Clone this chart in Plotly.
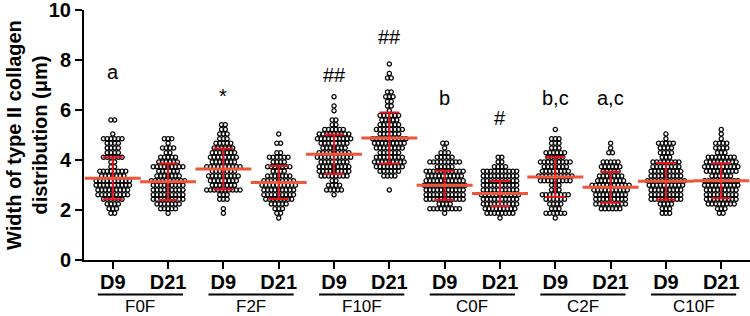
import plotly.graph_objects as go

# ---------------- data ----------------
GROUPS = ["F0F", "F2F", "F10F", "C0F", "C2F", "C10F"]
DAYS = ["D9", "D21"] * 6

# each series: rows of (value in µm, number of dots in that row)
F0F_D9 = [(5.60, 2), (5.04, 1), (4.85, 6), (4.67, 4), (4.48, 4), (4.29, 4), (4.11, 6), (3.92, 2), (3.73, 2),
          (3.55, 8), (3.36, 7), (3.17, 10), (2.99, 10), (2.80, 9), (2.61, 9), (2.43, 6), (2.24, 4), (2.05, 3), (1.87, 2)]
F0F_D21 = [(4.85, 3), (4.67, 1), (4.48, 4), (4.29, 2), (4.11, 5), (3.92, 6), (3.73, 9), (3.55, 6), (3.36, 7),
           (3.17, 10), (2.99, 9), (2.80, 9), (2.61, 9), (2.43, 9), (2.24, 7), (2.05, 5), (1.87, 1)]
F2F_D9 = [(5.41, 2), (5.22, 2), (5.04, 3), (4.85, 3), (4.67, 5), (4.48, 6), (4.29, 7), (4.11, 8), (3.92, 7),
          (3.73, 10), (3.55, 7), (3.36, 9), (3.17, 8), (2.99, 7), (2.80, 10), (2.61, 3), (2.43, 3), (2.05, 1), (1.87, 1)]
F2F_D21 = [(5.04, 1), (4.67, 2), (4.29, 2), (4.11, 6), (3.92, 4), (3.73, 7), (3.55, 4), (3.36, 7), (3.17, 9),
           (2.99, 10), (2.80, 9), (2.61, 9), (2.43, 8), (2.24, 5), (2.05, 3), (1.87, 2), (1.68, 1)]
F10F_D9 = [(6.53, 1), (6.16, 1), (5.97, 1), (5.60, 2), (5.41, 2), (5.22, 6), (5.04, 9), (4.85, 10), (4.67, 8),
           (4.48, 7), (4.29, 9), (4.11, 10), (3.92, 8), (3.73, 9), (3.55, 9), (3.36, 8), (3.17, 2), (2.99, 4),
           (2.80, 5), (2.61, 1)]
F10F_D21 = [(7.84, 1), (7.46, 1), (7.28, 2), (6.72, 2), (6.53, 3), (6.34, 2), (6.16, 2), (5.97, 1), (5.78, 6),
            (5.60, 5), (5.41, 6), (5.22, 8), (5.04, 6), (4.85, 10), (4.67, 9), (4.48, 8), (4.29, 6), (4.11, 8),
            (3.92, 9), (3.73, 8), (3.55, 6), (3.36, 4), (2.80, 1)]
C0F_D9 = [(4.67, 2), (4.48, 1), (4.29, 3), (4.11, 5), (3.92, 9), (3.73, 5), (3.55, 11), (3.36, 10), (3.17, 11),
          (2.99, 12), (2.80, 11), (2.61, 11), (2.43, 11), (2.24, 4), (2.05, 9), (1.87, 1)]
C0F_D21 = [(4.11, 2), (3.92, 2), (3.73, 4), (3.55, 10), (3.36, 10), (3.17, 10), (2.99, 10), (2.80, 10),
           (2.61, 11), (2.43, 10), (2.24, 10), (2.05, 9), (1.87, 8), (1.68, 1)]
C2F_D9 = [(5.22, 1), (4.85, 3), (4.67, 3), (4.48, 3), (4.29, 6), (4.11, 5), (3.92, 9), (3.73, 7), (3.55, 8),
          (3.36, 10), (3.17, 9), (2.99, 3), (2.80, 3), (2.61, 8), (2.43, 6), (2.24, 4), (2.05, 3), (1.87, 6), (1.68, 1)]
C2F_D21 = [(4.67, 1), (4.48, 1), (4.29, 2), (3.92, 5), (3.73, 6), (3.55, 5), (3.36, 7), (3.17, 8), (2.99, 11),
           (2.80, 10), (2.61, 9), (2.43, 9), (2.24, 9), (2.05, 6)]
C10F_D9 = [(5.04, 1), (4.85, 1), (4.67, 5), (4.48, 4), (4.29, 4), (4.11, 3), (3.92, 8), (3.73, 8), (3.55, 9),
           (3.36, 9), (3.17, 11), (2.99, 10), (2.80, 9), (2.61, 9), (2.43, 9), (2.24, 4), (2.05, 3), (1.87, 3)]
C10F_D21 = [(5.22, 1), (5.04, 1), (4.85, 1), (4.67, 4), (4.48, 4), (4.29, 3), (4.11, 8), (3.92, 9), (3.73, 10),
            (3.55, 9), (3.36, 6), (3.17, 10), (2.99, 10), (2.80, 9), (2.61, 9), (2.43, 9), (2.24, 8), (2.05, 3),
            (1.87, 2)]

SERIES = [F0F_D9, F0F_D21, F2F_D9, F2F_D21, F10F_D9, F10F_D21,
          C0F_D9, C0F_D21, C2F_D9, C2F_D21, C10F_D9, C10F_D21]
MEANS = [3.27, 3.13, 3.64, 3.10, 4.23, 4.88, 2.99, 2.66, 3.32, 2.91, 3.15, 3.17]
SDS = [0.84, 0.73, 0.82, 0.66, 0.79, 1.02, 0.58, 0.50, 0.80, 0.62, 0.73, 0.70]
SIG_LABELS = ["a", "", "*", "", "##", "##", "b", "#", "b,c", "a,c", "", ""]
SIG_Y = [7.54, 0, 6.55, 0, 7.42, 8.93, 6.5, 5.69, 6.5, 6.5, 0, 0]

# ---------------- styling ----------------
FONT = "Arial, Liberation Sans, Helvetica, sans-serif"
RED = "#e8141c"
DX = 0.067  # horizontal dot spacing in category units
PLOT_L, PLOT_W = 84, 666
PLOT_T, PLOT_B = 10, 56
PLOT_H = 316 - PLOT_T - PLOT_B

fig = go.Figure()

xs, ys = [], []
for i, rows in enumerate(SERIES):
    for val, n in rows:
        for j in range(n):
            xs.append(i + (j - (n - 1) / 2) * DX)
            ys.append(val)

fig.add_trace(go.Scatter(
    x=xs, y=ys, mode="markers", hoverinfo="skip",
    marker=dict(symbol="circle-open", size=4.2, color="black", line=dict(width=1.25, color="black")),
))

fig.add_trace(go.Scatter(
    x=list(range(12)), y=MEANS, mode="markers",
    marker=dict(symbol="line-ew-open", size=40, line=dict(width=3, color=RED)),
    error_y=dict(type="data", array=SDS, visible=True, width=10, thickness=2, color=RED),
))

annotations = []
for i, (t, yv) in enumerate(zip(SIG_LABELS, SIG_Y)):
    if t:
        annotations.append(dict(x=i, y=yv, xref="x", yref="y", text=t, showarrow=False,
                                yanchor="middle", font=dict(family=FONT, size=20, color="black")))

shapes = []
for g, name in enumerate(GROUPS):
    c = 2 * g + 0.5
    shapes.append(dict(type="line", xref="x", yref="paper", x0=c - 0.77, x1=c + 0.77,
                       y0=-34.5 / PLOT_H, y1=-34.5 / PLOT_H, line=dict(color="black", width=2)))
    annotations.append(dict(x=c, y=-46.5 / PLOT_H, xref="x", yref="paper", text=name, showarrow=False,
                            yanchor="middle", font=dict(family=FONT, size=17, color="black")))

# y-axis title (two lines, rotated)
annotations.append(dict(
    x=(27 - PLOT_L) / PLOT_W, y=0.5, xref="paper", yref="paper", textangle=-90,
    text="Width of type II collagen<br>distribution (μm)", showarrow=False,
    xanchor="center", yanchor="middle",
    font=dict(family=FONT, size=20, weight="bold", color="black"),
))

fig.update_layout(
    width=750, height=316,
    margin=dict(l=PLOT_L, r=0, t=PLOT_T, b=PLOT_B, autoexpand=False),
    paper_bgcolor="white", plot_bgcolor="white",
    showlegend=False,
    font=dict(family=FONT, color="black"),
    annotations=annotations, shapes=shapes,
)
fig.update_xaxes(
    range=[-0.52, 11.52], tickmode="array", tickvals=list(range(12)), ticktext=DAYS,
    showline=True, linewidth=2, linecolor="black", ticks="outside", ticklen=7, tickwidth=2,
    tickcolor="black", showgrid=False, zeroline=False, automargin=False,
    ticklabelstandoff=-4, ticklabeloverflow="allow",
    tickfont=dict(family=FONT, size=20, weight="bold", color="black"),
)
fig.update_yaxes(
    range=[0, 10], tickmode="array", tickvals=[0, 2, 4, 6, 8, 10], ticktext=["0", "2", "4", "6", "8", "10"],
    showline=True, linewidth=2, linecolor="black", ticks="outside", ticklen=7, tickwidth=2,
    tickcolor="black", showgrid=False, zeroline=False, automargin=False,
    ticklabeloverflow="allow",
    tickfont=dict(family=FONT, size=20, weight="bold", color="black"),
)

# remove the browser's default 8px page margin so the figure sits at the window's corner
fig.write_html("out.html", post_script="document.body.style.margin='0';document.body.style.overflow='hidden';",
               config={"displayModeBar": False})
